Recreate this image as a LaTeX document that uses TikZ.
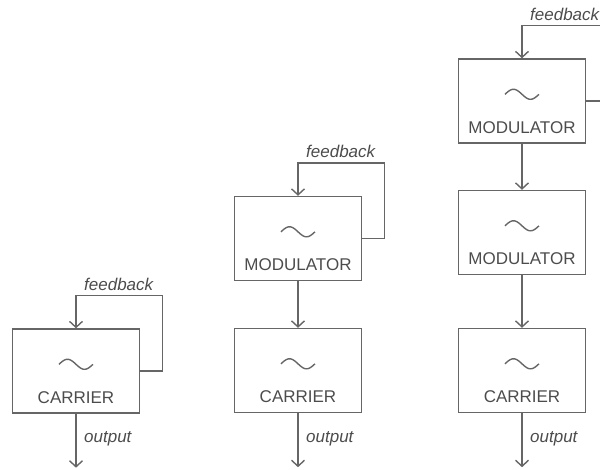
\documentclass[tikz,border=0pt]{standalone}
\usepackage{fontspec}
\setmainfont{Liberation Sans}
\usetikzlibrary{arrows.meta,calc}
\definecolor{ln}{HTML}{666666}
\definecolor{tx}{HTML}{4C4C4C}
\tikzset{
  line/.style={draw=ln,line width=1.4pt},
  arr/.style={line,-{Straight Barb[length=6pt,width=13pt,line width=1.4pt]}},
  unit/.style={line,minimum width=127pt,minimum height=84pt,inner sep=0pt},
  lbl/.style={text=tx,font=\fontsize{17}{20}\selectfont,inner sep=0pt},
  ilbl/.style={lbl,font=\fontsize{17}{20}\selectfont\itshape},
  wave/.pic={\draw[line] plot[domain=-17:17,samples=50,smooth] (\x,{5*sin(\x*180/17)});}
}
\begin{document}
\begin{tikzpicture}[x=1pt,y=-1pt]
\useasboundingbox (0,0) rectangle (600,469);
\clip (0,0) rectangle (600,469);
% column 1
\node[unit] (c1) at (76,371) {};
% column 2
\node[unit] (m2) at (298,238.5) {};
\node[unit] (c2) at (298,370.5) {};
% column 3
\node[unit] (m3a) at (522,101) {};
\node[unit] (m3b) at (522,232.5) {};
\node[unit] (c3) at (522,370.5) {};
% contents
\foreach \b/\t in {c1/CARRIER,m2/MODULATOR,c2/CARRIER,m3a/MODULATOR,m3b/MODULATOR,c3/CARRIER}{
  \pic at ($(\b.north)+(0,36)$) {wave};
  \node[lbl,anchor=base] (\b-t) at ($(\b.north)+(0,75)$) {\t};
}
% feedback loops
\foreach \b in {c1,m2,m3a}{
  \coordinate (\b-fb) at ($(\b.north)+(0,-33)$);
  \draw[arr] (\b.east) -- ++(22,0) |- (\b-fb) -- (\b.north);
  \node[ilbl,anchor=base west] (\b-fl) at ($(\b-fb)+(8,-5)$) {feedback};
}
% chain arrows
\draw[arr] (m2.south) -- (c2.north);
\draw[arr] (m3a.south) -- (m3b.north);
\draw[arr] (m3b.south) -- (c3.north);
% outputs
\foreach \b in {c1,c2,c3}{
  \coordinate (\b-o) at ($(\b.south)+(0,54)$);
  \draw[arr] (\b.south) -- (\b-o);
  \node[ilbl,anchor=base west] (\b-ol) at ($(\b.south)+(8,29)$) {output};
}
\end{tikzpicture}
\end{document}
